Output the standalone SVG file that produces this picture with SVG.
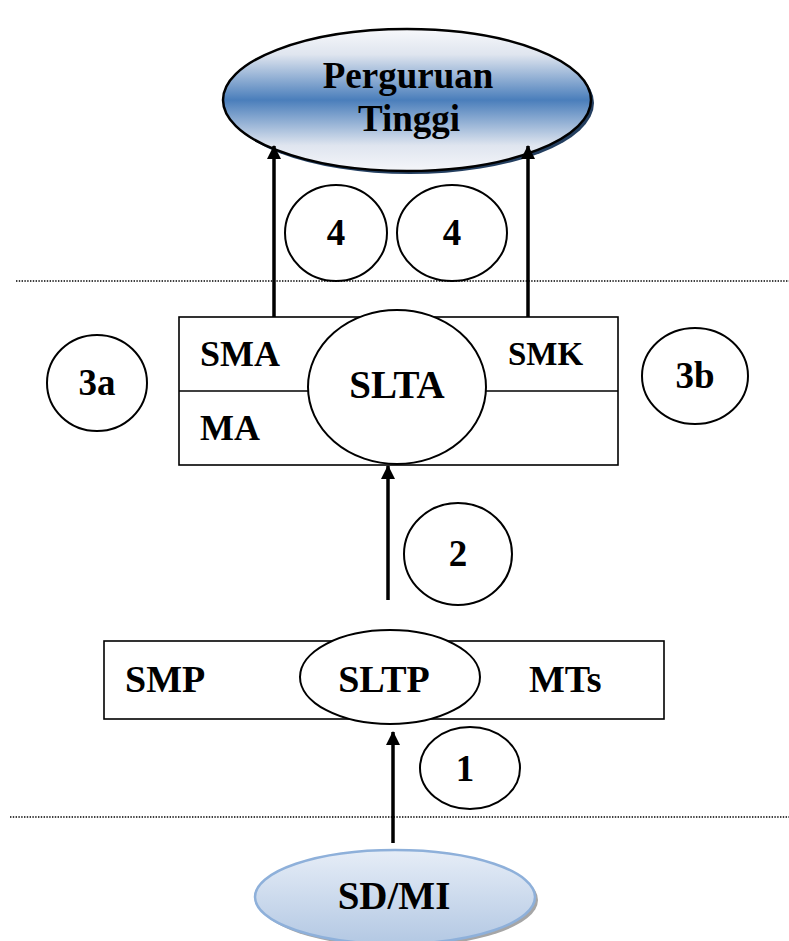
<svg xmlns="http://www.w3.org/2000/svg" width="789" height="941" viewBox="0 0 789 941">
  <defs>
    <linearGradient id="gradPT" x1="0" y1="0" x2="0" y2="1">
      <stop offset="0" stop-color="#f7f8fb"/>
      <stop offset="0.18" stop-color="#dfe5ef"/>
      <stop offset="0.5" stop-color="#4a7ebb"/>
      <stop offset="0.82" stop-color="#dfe5ef"/>
      <stop offset="1" stop-color="#f5f6fa"/>
    </linearGradient>
    <linearGradient id="gradSD" x1="0" y1="0" x2="0" y2="1">
      <stop offset="0" stop-color="#e6edf7"/>
      <stop offset="1" stop-color="#b3c8e3"/>
    </linearGradient>
    <marker id="arrow" viewBox="0 0 14 14" refX="13" refY="7" markerWidth="14" markerHeight="14" markerUnits="userSpaceOnUse" orient="auto">
      <path d="M0,0 L14,7 L0,14 Z" fill="#000"/>
    </marker>
    <style>
      .lbl { font-family: "Liberation Serif", "Times New Roman", serif; font-weight: bold; fill: #000; }
      .circ { fill: #fff; stroke: #000; stroke-width: 2; }
      .box { fill: #fff; stroke: #000; stroke-width: 1.6; }
      .sep { stroke: #000; stroke-width: 1.6; fill: none; }
      .dots { stroke: #000; stroke-width: 1.6; stroke-dasharray: 1.4 1.4; fill: none; }
      .conn { stroke: #000; stroke-width: 3.5; fill: none; marker-end: url(#arrow); }
    </style>
  </defs>

  <rect width="789" height="941" fill="#fff"/>

  <!-- level dividers -->
  <line class="dots" x1="16" y1="281" x2="789" y2="281"/>
  <line class="dots" x1="10" y1="817" x2="789" y2="817"/>

  <!-- higher education -->
  <g id="perguruan-tinggi">
    <ellipse cx="410" cy="103" rx="184" ry="71" fill="#243f60"/>
    <ellipse cx="407" cy="100" rx="184" ry="71" fill="url(#gradPT)" stroke="#000" stroke-width="2.5"/>
    <text class="lbl" x="408" y="88" font-size="37" text-anchor="middle">Perguruan</text>
    <text class="lbl" x="409" y="131" font-size="37" text-anchor="middle">Tinggi</text>
  </g>

  <!-- upper secondary level -->
  <g id="slta">
    <rect class="box" x="179" y="317" width="439" height="148"/>
    <line class="sep" x1="179" y1="391" x2="618" y2="391"/>
    <ellipse class="circ" cx="397" cy="387" rx="89" ry="77" stroke-width="1.8"/>
    <text class="lbl" x="200" y="366" font-size="36">SMA</text>
    <text class="lbl" x="200" y="440" font-size="36">MA</text>
    <text class="lbl" x="508" y="365" font-size="33">SMK</text>
    <text class="lbl" x="397" y="398" font-size="39" text-anchor="middle">SLTA</text>
  </g>

  <!-- lower secondary level -->
  <g id="sltp">
    <rect class="box" x="104" y="641" width="560" height="78"/>
    <ellipse class="circ" cx="390" cy="677" rx="90" ry="47" stroke-width="1.8"/>
    <text class="lbl" x="125" y="692" font-size="38">SMP</text>
    <text class="lbl" x="384" y="692" font-size="38" text-anchor="middle">SLTP</text>
    <text class="lbl" x="529" y="692" font-size="38">MTs</text>
  </g>

  <!-- primary level -->
  <g id="sd-mi">
    <ellipse cx="398" cy="900" rx="140" ry="47" fill="#a6a6a6"/>
    <ellipse cx="395" cy="897" rx="140" ry="47" fill="url(#gradSD)" stroke="#8eb0da" stroke-width="2.5"/>
    <text class="lbl" x="394" y="909" font-size="39" text-anchor="middle">SD/MI</text>
  </g>

  <!-- step markers -->
  <g id="step-4a">
    <ellipse class="circ" cx="336" cy="233" rx="51" ry="48"/>
    <text class="lbl" x="336" y="245" font-size="37" text-anchor="middle">4</text>
  </g>
  <g id="step-4b">
    <ellipse class="circ" cx="452" cy="233" rx="55" ry="48"/>
    <text class="lbl" x="452" y="245" font-size="37" text-anchor="middle">4</text>
  </g>
  <g id="step-3a">
    <ellipse class="circ" cx="97" cy="383" rx="50" ry="48"/>
    <text class="lbl" x="97" y="395" font-size="37" text-anchor="middle">3a</text>
  </g>
  <g id="step-3b">
    <ellipse class="circ" cx="695" cy="376" rx="53" ry="48"/>
    <text class="lbl" x="695" y="388" font-size="37" text-anchor="middle">3b</text>
  </g>
  <g id="step-2">
    <ellipse class="circ" cx="458" cy="554" rx="54" ry="51"/>
    <text class="lbl" x="458" y="566" font-size="37" text-anchor="middle">2</text>
  </g>
  <g id="step-1">
    <ellipse class="circ" cx="470" cy="768" rx="50" ry="41"/>
    <text class="lbl" x="465" y="781" font-size="37" text-anchor="middle">1</text>
  </g>

  <!-- connectors -->
  <g id="connectors">
    <line class="conn" x1="274" y1="317" x2="274" y2="146"/>
    <line class="conn" x1="528" y1="317" x2="528" y2="146"/>
    <line class="conn" x1="388" y1="600" x2="388" y2="466"/>
    <line class="conn" x1="393" y1="843" x2="393" y2="732"/>
  </g>
</svg>
